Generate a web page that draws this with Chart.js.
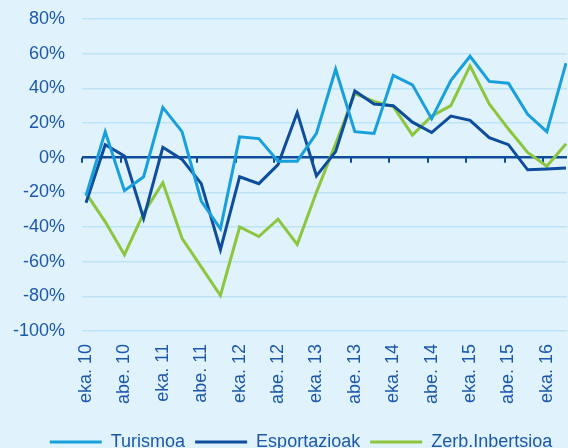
<!DOCTYPE html>
<html>
<head>
<meta charset="utf-8">
<script src="https://cdn.jsdelivr.net/npm/chart.js@4"></script>
<style>
  html, body { margin: 0; padding: 0; background: #e0f2fb; }
  #wrap { width: 568px; height: 448px; overflow: hidden; }
  canvas { display: block; }
</style>
</head>
<body>
<div id="wrap"><canvas id="chart" width="568" height="461"></canvas></div>
<script>
// quarterly data, June 2010 .. September 2016
const tickLabels = ['eka. 10', 'abe. 10', 'eka. 11', 'abe. 11', 'eka. 12', 'abe. 12', 'eka. 13',
    'abe. 13', 'eka. 14', 'abe. 14', 'eka. 15', 'abe. 15', 'eka. 16'];
const turismoa = [-22, 15, -19, -11, 29, 15, -25, -41, 12, 11, -2, -2, 14, 51, 15, 14,
    47.5, 42, 22.5, 44.5, 58.5, 44, 43, 25, 15, 54.5];
const esportazioak = [-26, 7.5, 1, -35, 6, -1, -15, -53, -11, -15, -4, 26, -10.5, 3.5, 38.5, 31,
    30, 20.5, 14.5, 24, 21.5, 11.5, 7.5, -7, -6.5, -6];
const zerbInbertsioa = [-20.5, -37, -56, -32, -14.5, -46.5, -63, -79.5, -40, -45.5, -35.5, -50, -20, 8, 37, 32.5,
    29.5, 13, 24, 30, 53, 31, 16.5, 3, -5, 8];

const LIGHT = '#18a0dc';
const DARK = '#0e4c9c';
const GREEN = '#8cc63f';
const TEXT = '#1d58a9';

Chart.defaults.font.family = '"Liberation Sans", Arial, sans-serif';
Chart.defaults.font.size = 18;
Chart.defaults.color = TEXT;

const toPoints = arr => arr.map((v, i) => ({ x: i, y: v }));

// small tick marks hanging under the zero line
const zeroTicks = {
    id: 'zeroTicks',
    afterLayout(chart) {
        // legend sits a little right of the canvas centre
        chart.legend.left += 11;
        chart.legend.right += 11;
    },
    beforeDatasetsDraw(chart) {
        const { ctx, scales: { x, y } } = chart;
        const y0 = y.getPixelForValue(0);
        ctx.save();
        ctx.strokeStyle = DARK;
        ctx.lineWidth = 2;
        for (let k = 0; k < tickLabels.length; k++) {
            const px = Math.round(x.getPixelForValue(-0.2 + 2 * k));
            ctx.beginPath();
            ctx.moveTo(px, y0);
            ctx.lineTo(px, y0 + 5);
            ctx.stroke();
        }
        ctx.restore();
    }
};

new Chart(document.getElementById('chart').getContext('2d'), {
    type: 'line',
    data: {
        datasets: [{
            label: 'Turismoa',
            data: toPoints(turismoa),
            borderColor: LIGHT,
            backgroundColor: LIGHT
        }, {
            label: 'Esportazioak',
            data: toPoints(esportazioak),
            borderColor: DARK,
            backgroundColor: DARK
        }, {
            label: 'Zerb.Inbertsioa',
            data: toPoints(zerbInbertsioa),
            borderColor: GREEN,
            backgroundColor: GREEN
        }]
    },
    options: {
        responsive: false,
        animation: false,
        elements: {
            line: { borderWidth: 3, tension: 0 },
            point: { radius: 0 }
        },
        layout: {
            padding: { top: 19, left: 13, right: 1, bottom: 0 }
        },
        plugins: {
            legend: {
                position: 'bottom',
                labels: {
                    boxWidth: 52,
                    boxHeight: 3,
                    padding: 10,
                    color: TEXT,
                    generateLabels: chart => Chart.defaults.plugins.legend.labels.generateLabels(chart)
                        .map(l => ({ ...l, lineWidth: 0 }))
                }
            },
            tooltip: { enabled: false }
        },
        scales: {
            x: {
                type: 'linear',
                min: -0.21,
                max: 25.05,
                grid: { display: false, drawTicks: false },
                border: { display: false },
                afterBuildTicks: axis => {
                    axis.ticks = tickLabels.map((t, i) => ({ value: i * 2 }));
                },
                afterFit: axis => {
                    axis.height = 92;
                    axis.paddingLeft = 0;
                    axis.paddingRight = 0;
                },
                ticks: {
                    autoSkip: false,
                    minRotation: 90,
                    maxRotation: 90,
                    padding: 13,
                    callback: v => tickLabels[v / 2]
                }
            },
            y: {
                min: -100,
                max: 80,
                grid: {
                    drawTicks: false,
                    color: c => c.tick && c.tick.value === 0 ? DARK : '#bde3f6',
                    lineWidth: c => c.tick && c.tick.value === 0 ? 2.5 : 1.5
                },
                border: { display: false },
                afterFit: axis => {
                    axis.width = 69;
                    axis.paddingTop = 0;
                    axis.paddingBottom = 0;
                },
                ticks: {
                    stepSize: 20,
                    padding: 17,
                    callback: v => v + '%'
                }
            }
        }
    },
    plugins: [zeroTicks]
});
</script>
</body>
</html>
